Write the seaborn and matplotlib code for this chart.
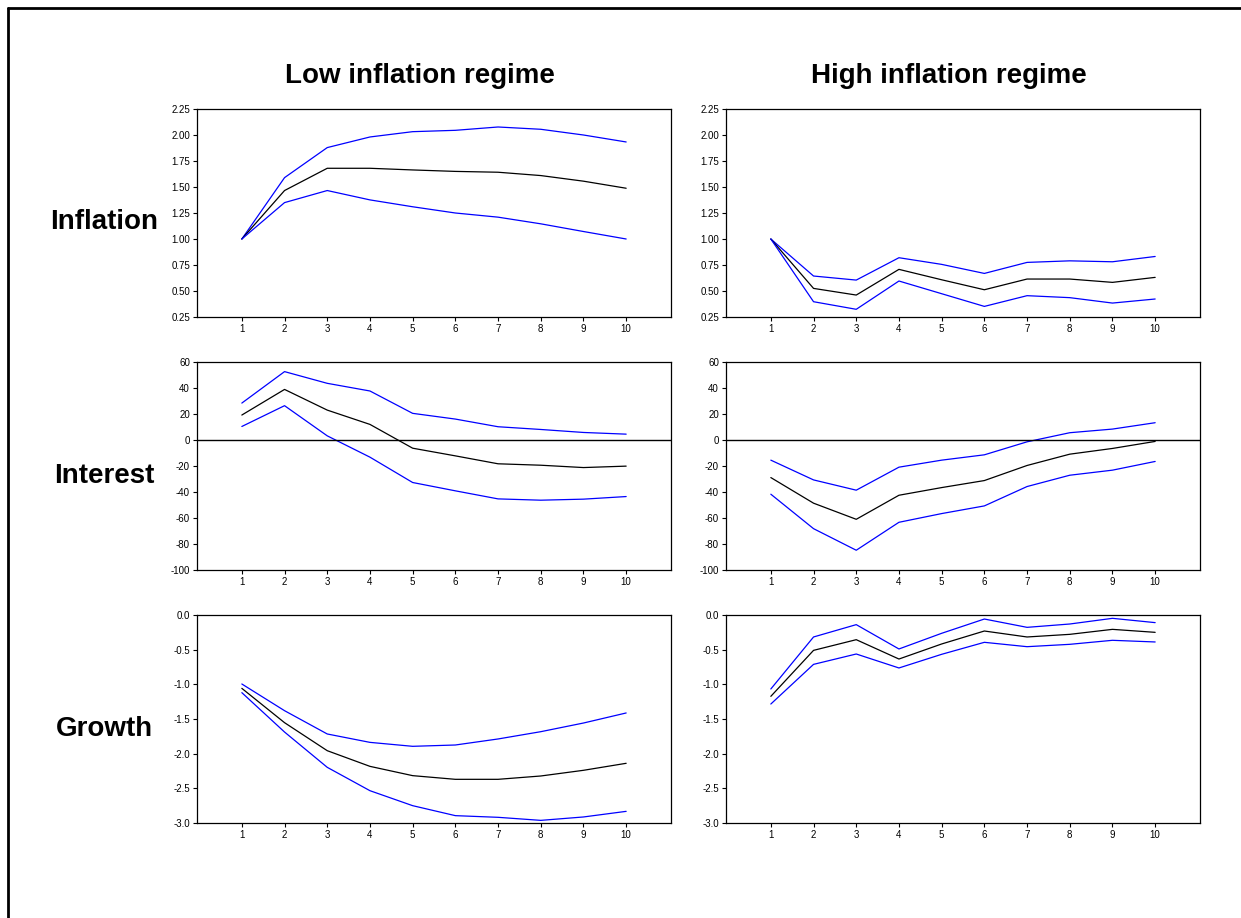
import matplotlib
matplotlib.use("Agg")
import matplotlib.pyplot as plt
import numpy as np
import pandas as pd
import seaborn as sns
from matplotlib.lines import Line2D

# horizon
steps = [1, 2, 3, 4, 5, 6, 7, 8, 9, 10]

# Inflation response
low_infl_mean = [1.00, 1.466, 1.68, 1.68, 1.664, 1.65, 1.642, 1.61, 1.556, 1.488]
low_infl_upper = [1.00, 1.59, 1.879, 1.981, 2.032, 2.045, 2.077, 2.055, 2.00, 1.933]
low_infl_lower = [1.00, 1.35, 1.466, 1.376, 1.31, 1.25, 1.21, 1.146, 1.072, 1.00]
high_infl_mean = [1.00, 0.525, 0.461, 0.708, 0.608, 0.512, 0.615, 0.615, 0.583, 0.631]
high_infl_upper = [1.00, 0.644, 0.605, 0.82, 0.756, 0.669, 0.775, 0.79, 0.781, 0.832]
high_infl_lower = [1.00, 0.397, 0.324, 0.596, 0.474, 0.352, 0.455, 0.436, 0.384, 0.423]

# Interest response
low_int_mean = [19.2, 38.9, 23.0, 12.0, -6.3, -12.2, -18.3, -19.4, -21.2, -20.1]
low_int_upper = [28.4, 52.6, 43.6, 37.7, 20.5, 16.1, 10.2, 8.1, 5.8, 4.5]
low_int_lower = [10.4, 26.4, 3.2, -13.2, -32.7, -39.1, -45.3, -46.3, -45.5, -43.5]
high_int_mean = [-28.9, -48.6, -61.0, -42.5, -36.6, -31.2, -19.6, -10.9, -6.5, -1.1]
high_int_upper = [-15.5, -30.7, -38.6, -20.9, -15.5, -11.4, -1.4, 5.6, 8.4, 13.3]
high_int_lower = [-41.7, -68.2, -84.8, -63.3, -56.6, -50.7, -35.8, -27.1, -23.2, -16.5]

# Growth response
low_gr_mean = [-1.058, -1.553, -1.957, -2.183, -2.317, -2.37, -2.37, -2.322, -2.24, -2.139]
low_gr_upper = [-0.995, -1.38, -1.716, -1.837, -1.894, -1.875, -1.788, -1.683, -1.558, -1.413]
low_gr_lower = [-1.12, -1.688, -2.197, -2.534, -2.75, -2.894, -2.918, -2.962, -2.913, -2.832]
high_gr_mean = [-1.173, -0.51, -0.356, -0.635, -0.418, -0.231, -0.317, -0.279, -0.207, -0.25]
high_gr_upper = [-1.067, -0.317, -0.139, -0.49, -0.264, -0.058, -0.178, -0.13, -0.048, -0.11]
high_gr_lower = [-1.284, -0.712, -0.5625, -0.764, -0.567, -0.394, -0.457, -0.423, -0.365, -0.389]

col_titles = ["Low inflation regime", "High inflation regime"]
row_titles = ["Inflation", "Interest", "Growth"]

panels = [
    [(low_infl_mean, low_infl_upper, low_infl_lower), (high_infl_mean, high_infl_upper, high_infl_lower)],
    [(low_int_mean, low_int_upper, low_int_lower), (high_int_mean, high_int_upper, high_int_lower)],
    [(low_gr_mean, low_gr_upper, low_gr_lower), (high_gr_mean, high_gr_upper, high_gr_lower)],
]
yticks = [
    [0.25, 0.50, 0.75, 1.00, 1.25, 1.50, 1.75, 2.00, 2.25],
    [-100, -80, -60, -40, -20, 0, 20, 40, 60],
    [-3.0, -2.5, -2.0, -1.5, -1.0, -0.5, 0.0],
]
ytick_fmt = ["{:.2f}", "{:.0f}", "{:.1f}"]

sns.set_style("white")
plt.rcParams['font.family'] = ['Liberation Sans', 'DejaVu Sans']

fig = plt.figure(figsize=(12.41, 9.18), dpi=100)

col_x = [197 / 1241, 726 / 1241]
ax_w = 474 / 1241
row_top = [109, 362, 615]
ax_h = 208 / 918

for r in range(3):
    for c in range(2):
        ax = fig.add_axes([col_x[c], 1 - (row_top[r] + 208) / 918, ax_w, ax_h])
        mean, upper, lower = panels[r][c]
        df = pd.DataFrame({"step": steps * 3,
                           "value": upper + mean + lower,
                           "band": ["upper"] * 10 + ["mean"] * 10 + ["lower"] * 10})
        sns.lineplot(data=df, x="step", y="value", hue="band",
                     palette={"upper": "#0000ff", "mean": "black", "lower": "#0000ff"},
                     linewidth=0.9, legend=False, ax=ax)
        if r == 1:
            ax.axhline(0, color="black", linewidth=1.0)
        ax.set_xlim(-0.05, 11.05)
        ax.set_ylim(yticks[r][0], yticks[r][-1])
        ax.set_xticks(steps)
        ax.set_xticklabels([str(s) for s in steps])
        ax.set_yticks(yticks[r])
        ax.set_yticklabels([ytick_fmt[r].format(v) for v in yticks[r]])
        ax.set_xlabel("")
        ax.set_ylabel("")
        ax.tick_params(axis="both", direction="out", length=3, width=0.8,
                       labelsize=7, colors="black", pad=2)
        ax.tick_params(axis="x", bottom=True)
        ax.tick_params(axis="y", left=True)
        for sp in ax.spines.values():
            sp.set_color("black")
            sp.set_linewidth(0.9)

# column titles
fig.text(420 / 1241, 1 - 76 / 918, col_titles[0], ha="center", va="center",
         fontsize=20, fontweight="bold", color="black")
fig.text(949 / 1241, 1 - 76 / 918, col_titles[1], ha="center", va="center",
         fontsize=20, fontweight="bold", color="black")

# row labels
for lbl, yc in zip(row_titles, [222, 476, 729]):
    fig.text(104 / 1241, 1 - yc / 918, lbl, ha="center", va="center",
             fontsize=20, fontweight="bold", color="black")

# outer frame (cut off at right and bottom)
fig.add_artist(Line2D([8 / 1241, 8 / 1241], [1 - 8 / 918, 0], color="black", linewidth=2))
fig.add_artist(Line2D([8 / 1241, 1], [1 - 8 / 918, 1 - 8 / 918], color="black", linewidth=2))

plt.savefig("out.png", dpi=100)
